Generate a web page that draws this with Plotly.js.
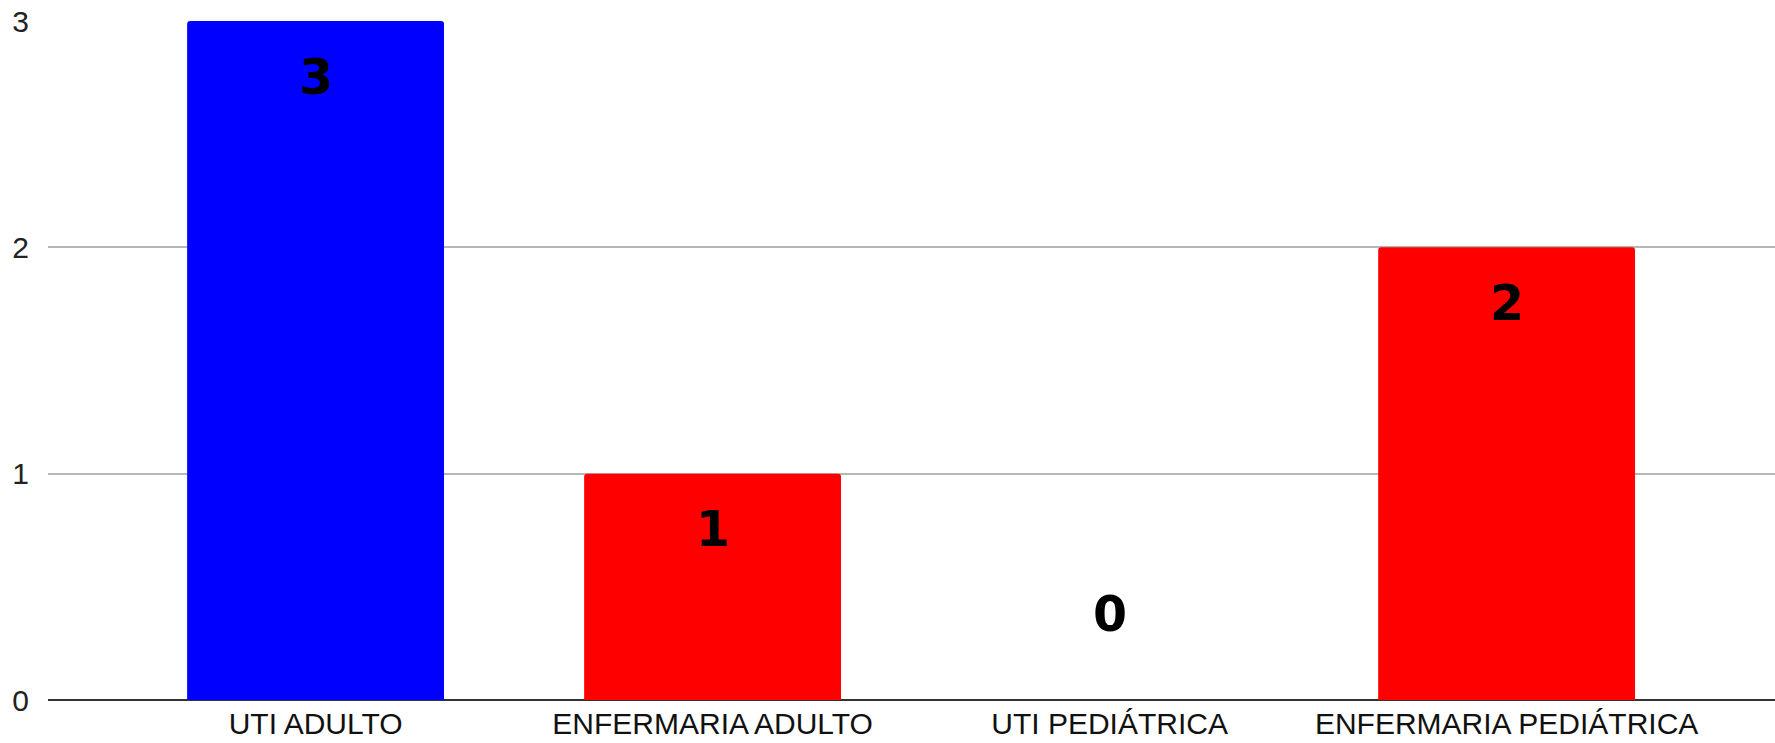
<!DOCTYPE html>
<html>
<head>
<meta charset="utf-8">
<script src="https://cdn.plot.ly/plotly-3.0.1.min.js"></script>
<style>html,body{margin:0;padding:0;background:#fff;}#chart{width:1775px;height:743px;}</style>
</head>
<body>
<div id="chart"></div>
<script>
const categories = ["UTI ADULTO", "ENFERMARIA ADULTO", "UTI PEDIÁTRICA", "ENFERMARIA PEDIÁTRICA"];
const values = [3, 1, 0, 2];
const barColors = ["#0000ff", "#ff0000", "#ff0000", "#ff0000"];
const yTicks = [0, 1, 2, 3];

const trace = {
  type: "bar",
  x: [0, 1, 2, 3],
  y: values,
  width: 0.647,
  marker: { color: barColors, cornerradius: 3, line: { width: 0 } },
  hoverinfo: "none"
};

const annotations = values.map((v, i) => ({
  x: i, y: v, xref: "x", yref: "y",
  text: String(v),
  showarrow: false,
  yshift: v > 0 ? -56 : 86,
  font: { family: "DejaVu Sans, sans-serif", size: 49, color: "#000", weight: "bold" }
}));

const layout = {
  width: 1775, height: 743,
  margin: { l: 48, r: 0, t: 21, b: 43 },
  paper_bgcolor: "#fff", plot_bgcolor: "#fff",
  showlegend: false,
  font: { family: "Liberation Sans, Arial, sans-serif", color: "#222" },
  xaxis: {
    range: [-0.674, 3.676],
    tickmode: "array", tickvals: [0, 1, 2, 3], ticktext: categories,
    tickfont: { size: 30, color: "#111" },
    showgrid: false, zeroline: false, showline: false, ticks: "",
    ticklabelstandoff: 3,
    fixedrange: true
  },
  yaxis: {
    range: [0, 3],
    tickmode: "array", tickvals: yTicks, ticktext: yTicks.map(String),
    tickfont: { size: 30, color: "#222" },
    showgrid: true, gridcolor: "#b7b7b7", gridwidth: 2,
    zeroline: true, zerolinecolor: "#333", zerolinewidth: 2,
    showline: false, ticks: "", ticklabelstandoff: 18,
    fixedrange: true
  },
  annotations: annotations
};

Plotly.newPlot("chart", [trace], layout, { displayModeBar: false, staticPlot: true });
</script>
</body>
</html>
